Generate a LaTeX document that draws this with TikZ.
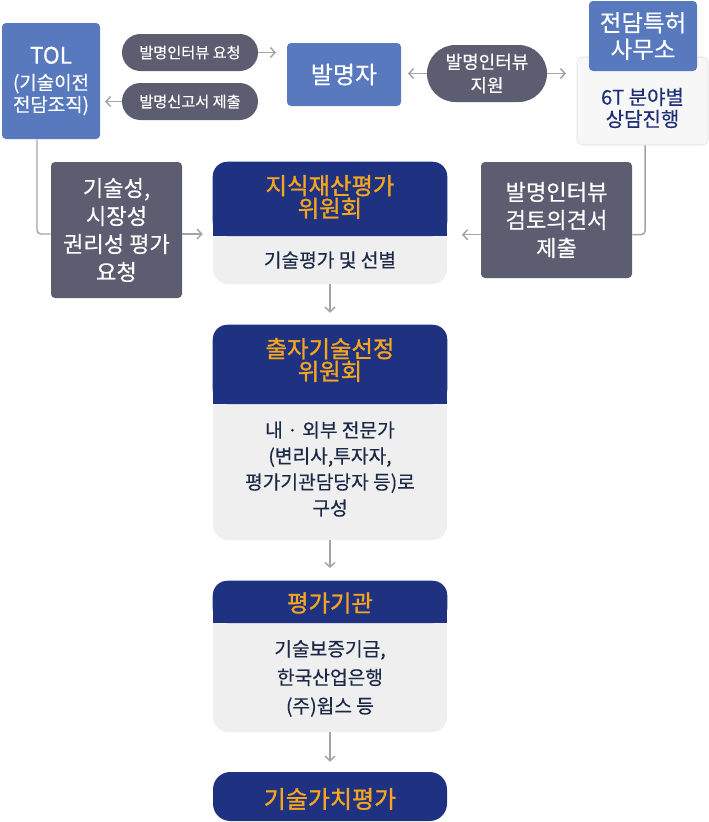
\documentclass[tikz,border=0pt]{standalone}
\usepackage{fontspec}
\setmainfont{Noto Sans CJK KR}[RawFeature={embolden=0.4}]
\newfontfamily\headfont{Noto Sans CJK KR}[RawFeature={embolden=1.3}]
\usetikzlibrary{arrows.meta, positioning}

\definecolor{boxblue}{HTML}{5879BE}
\definecolor{pillgray}{HTML}{5C5D70}
\definecolor{panelnavy}{HTML}{1E3281}
\definecolor{headorange}{HTML}{F7A51E}
\definecolor{panelgray}{HTML}{EFEFEF}
\definecolor{bodynavy}{HTML}{1C2946}
\definecolor{officenavy}{HTML}{1E2F78}
\definecolor{linegray}{HTML}{A4A4A4}

\begin{document}
\begin{tikzpicture}[x=0.75pt, y=-0.75pt,
    bluebox/.style={fill=boxblue, text=white, rounded corners=3pt, align=center,
                    inner sep=0pt},
    pill/.style={fill=pillgray, text=white, align=center, inner sep=0pt,
                 font=\fontsize{11.4}{14}\selectfont},
    graybox/.style={fill=pillgray, text=white, rounded corners=3pt, align=center,
                    inner sep=0pt, font=\fontsize{16.6}{21}\selectfont},
    panel/.style={fill=panelgray, rounded corners=11pt, minimum width=175.5pt,
                  inner sep=0pt},
    head/.style={text=headorange, align=center,
                 font=\headfont\fontsize{17.5}{17}\selectfont},
    body/.style={text=bodynavy, align=center, font=\fontsize{14.4}{20}\selectfont},
    arrow/.style={-{Straight Barb[length=3.5pt, width=7.5pt]}, draw=linegray,
                  line width=1.1pt},
    conn/.style={draw=linegray, line width=1.1pt, rounded corners=3pt}
]
\useasboundingbox (0,0) rectangle (709,822);

% Top row
\node[bluebox, minimum width=73.5pt, minimum height=87pt,
      font=\fontsize{14.2}{16.5}\selectfont] (tol) at (51,81)
  {{\fontsize{17}{20}\selectfont TOL}\\[3pt](기술이전\\전담조직)};
\node[pill, minimum width=102pt, minimum height=27.75pt, rounded corners=13.8pt]
  (reqInt) at (190,52.5) {발명인터뷰 요청};
\node[pill, minimum width=102pt, minimum height=27.75pt, rounded corners=13.8pt]
  (subRep) at (190,101.5) {발명신고서 제출};
\node[bluebox, minimum width=85.5pt, minimum height=47.25pt,
      font=\fontsize{18}{20}\selectfont] (inventor) at (344,74.5) {발명자};
\node[pill, minimum width=90pt, minimum height=42.75pt, rounded corners=21.3pt,
      font=\fontsize{13.5}{17.5}\selectfont] (supInt) at (487,73.5) {발명인터뷰\\지원};

% Patent office
\node[draw=black!13, fill=black!3, rounded corners=4pt, minimum width=98.25pt,
      minimum height=66pt, inner sep=0pt] (officeBody) at (642.5,101) {};
\node[bluebox, minimum width=81pt, minimum height=52.5pt,
      font=\fontsize{17.6}{20}\selectfont] (office) at (643,36) {전담특허\\사무소};
\node[text=officenavy, align=center, font=\fontsize{15}{16.5}\selectfont]
  (officeText) at (642.5,108) {6T 분야별\\상담진행};

% Side boxes
\node[graybox, minimum width=98.25pt, minimum height=102pt] (evalReq)
  at (116.5,230) {기술성,\\시장성\\권리성 평가\\요청};
\node[graybox, minimum width=113.25pt, minimum height=87pt] (review)
  at (556.5,220) {발명인터뷰\\검토의견서\\제출};

% IP evaluation committee
\node[panel, minimum height=91.5pt] (ipcBox) at (330,223) {};
\fill[panelnavy, rounded corners=11pt] (ipcBox.north west) rectangle (ipcBox.east |- 0,236);
\fill[panelnavy] (ipcBox.west |- 0,216) rectangle (ipcBox.east |- 0,236);
\node[head] (ipcHead) at (330,197) {지식재산평가\\위원회};
\node[body] (ipcBody) at (330,260) {기술평가 및 선별};

% Selection committee
\node[panel, minimum height=161.25pt] (selBox) at (330,432.5) {};
\fill[panelnavy, rounded corners=11pt] (selBox.north west) rectangle (selBox.east |- 0,404);
\fill[panelnavy] (selBox.west |- 0,384) rectangle (selBox.east |- 0,404);
\node[head] (selHead) at (330,360) {출자기술선정\\위원회};
\node[body, font=\fontsize{14.4}{19.5}\selectfont] (selBody) at (330,469)
  {내 · 외부 전문가\\(변리사,투자자,\\평가기관담당자 등)로\\구성};

% Evaluation agency
\node[panel, minimum height=113.25pt] (agencyBox) at (330,656.5) {};
\fill[panelnavy, rounded corners=11pt] (agencyBox.north west) rectangle (agencyBox.east |- 0,623);
\fill[panelnavy] (agencyBox.west |- 0,603) rectangle (agencyBox.east |- 0,623);
\node[head] (agencyHead) at (330,603) {평가기관};
\node[body, font=\fontsize{14.4}{21.4}\selectfont] (agencyBody) at (330,678.5)
  {기술보증기금,\\한국산업은행\\(주)윕스 등};

% Result
\node[fill=panelnavy, rounded corners=13pt, minimum width=175.5pt,
      minimum height=36.75pt, inner sep=0pt] (result) at (330,796.5) {};
\node[head, font=\headfont\fontsize{18}{20}\selectfont] (resultText) at (330,799) {기술가치평가};

% Connectors
\draw[arrow, shorten >=8pt] (reqInt.east) -- (reqInt.east -| inventor.west);
\draw[arrow, shorten >=3.5pt] (subRep.west) -- (subRep.west -| tol.east);
\draw[arrow, shorten >=5pt] (supInt.west) -- (supInt.west -| inventor.east);
\draw[arrow, shorten >=8pt] (supInt.east) -- (supInt.east -| officeBody.west);
\draw[conn] ([xshift=-10.5pt]tol.south) |- ([yshift=-3pt]evalReq.west);
\draw[arrow, shorten >=7.5pt] ([yshift=-3pt]evalReq.east) -- ([yshift=-3pt]evalReq.east -| ipcBox.west);
\draw[conn] ([xshift=2pt]officeBody.south) |- ([yshift=-11pt]review.east);
\draw[arrow, shorten >=11pt] ([yshift=-11pt]review.west) -- ([yshift=-11pt]review.west -| ipcBox.east);
\draw[arrow, shorten >=9pt] (ipcBox.south) -- (selBox.north);
\draw[arrow, shorten >=9.5pt] (selBox.south) -- (agencyBox.north);
\draw[arrow, shorten >=7.5pt] (agencyBox.south) -- (result.north);
\end{tikzpicture}
\end{document}
